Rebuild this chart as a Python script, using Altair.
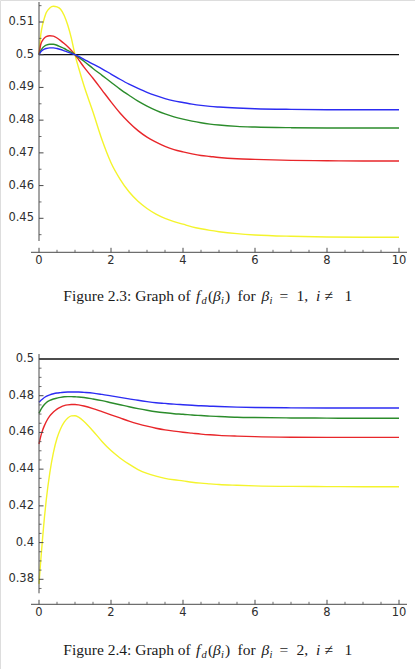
import altair as alt
import pandas as pd

# Sample points along beta_i (shared by every curve)
X = [0, 0.05, 0.1, 0.15, 0.2, 0.3, 0.4, 0.5, 0.6, 0.7, 0.8, 0.9, 1.0, 1.1, 1.25,
     1.5, 1.75, 2.0, 2.25, 2.5, 2.75, 3.0, 3.25, 3.5, 3.75, 4.0, 4.25, 4.5, 4.75, 5.0,
     5.5, 6.0, 7.0, 8.0, 9.0, 10.0]

# Figure 2.3 curves (beta_i = 1)
TOP_BLUE = [0.5, 0.5009, 0.5014, 0.5017, 0.5019, 0.5021, 0.5021, 0.5019, 0.5016, 0.5012, 0.5008,
            0.5004, 0.5, 0.4995, 0.4986, 0.4971, 0.4957, 0.4941, 0.4925, 0.4910, 0.4897, 0.4885,
            0.4875, 0.4866, 0.4859, 0.4854, 0.4849, 0.4845, 0.4842, 0.4840, 0.4837, 0.4835,
            0.4833, 0.4832, 0.4832, 0.4832]
TOP_GREEN = [0.5, 0.5013, 0.5021, 0.5026, 0.5029, 0.5032, 0.5032, 0.5029, 0.5024, 0.5019, 0.5013,
             0.5007, 0.5, 0.4992, 0.4980, 0.4958, 0.4937, 0.4916, 0.4895, 0.4876, 0.4858, 0.4843,
             0.4830, 0.4819, 0.4810, 0.4803, 0.4797, 0.4792, 0.4788, 0.4785, 0.4781, 0.4779,
             0.4777, 0.4776, 0.4776, 0.4776]
TOP_RED = [0.5, 0.5032, 0.5044, 0.5051, 0.5055, 0.5058, 0.5057, 0.5051, 0.5043, 0.5034, 0.5024,
           0.5013, 0.5, 0.4985, 0.4962, 0.4928, 0.4892, 0.4856, 0.4822, 0.4793, 0.4768, 0.4748,
           0.4733, 0.4720, 0.4710, 0.4703, 0.4697, 0.4692, 0.4689, 0.4686, 0.4682, 0.4680,
           0.4677, 0.4676, 0.4675, 0.4675]
TOP_YELLOW = [0.5, 0.5062, 0.5092, 0.5112, 0.5128, 0.5143, 0.5148, 0.5146, 0.5139, 0.5120, 0.5090,
              0.5050, 0.5, 0.4960, 0.4905, 0.4825, 0.4740, 0.4670, 0.4620, 0.4581, 0.4552, 0.4530,
              0.4513, 0.4500, 0.4490, 0.4482, 0.4474, 0.4468, 0.4463, 0.4459, 0.4453, 0.4449,
              0.4445, 0.4443, 0.4442, 0.4442]

# Figure 2.4 curves (beta_i = 2)
BOT_BLUE = [0.4764, 0.4774, 0.4782, 0.4790, 0.4796, 0.4805, 0.4811, 0.4815, 0.4817, 0.4819, 0.4820,
            0.4820, 0.4820, 0.4820, 0.4818, 0.4814, 0.4807, 0.4799, 0.4791, 0.4783, 0.4775, 0.4768,
            0.4762, 0.4758, 0.4754, 0.4751, 0.4748, 0.4745, 0.4743, 0.4741, 0.4738, 0.4736,
            0.4734, 0.4733, 0.4733, 0.4733]
BOT_GREEN = [0.4704, 0.4724, 0.4740, 0.4752, 0.4762, 0.4774, 0.4782, 0.4787, 0.4791, 0.4794, 0.4795,
             0.4795, 0.4794, 0.4793, 0.4790, 0.4782, 0.4773, 0.4762, 0.4751, 0.4740, 0.4730, 0.4721,
             0.4713, 0.4707, 0.4702, 0.4699, 0.4695, 0.4692, 0.4689, 0.4687, 0.4683, 0.4681,
             0.4679, 0.4678, 0.4677, 0.4677]
BOT_RED = [0.4537, 0.4580, 0.4612, 0.4637, 0.4658, 0.4690, 0.4711, 0.4727, 0.4738, 0.4746, 0.4750,
           0.4752, 0.4752, 0.4750, 0.4744, 0.4730, 0.4713, 0.4696, 0.4679, 0.4662, 0.4647, 0.4634,
           0.4623, 0.4614, 0.4607, 0.4601, 0.4596, 0.4591, 0.4587, 0.4584, 0.4580, 0.4577,
           0.4574, 0.4573, 0.4573, 0.4573]
BOT_YELLOW = [0.3775, 0.3905, 0.4025, 0.4135, 0.4230, 0.4380, 0.4490, 0.4568, 0.4620, 0.4656, 0.4679,
              0.4690, 0.4691, 0.4683, 0.4660, 0.4608, 0.4551, 0.4501, 0.4461, 0.4427, 0.4398, 0.4377,
              0.4362, 0.4350, 0.4342, 0.4336, 0.4329, 0.4324, 0.4320, 0.4316, 0.4312, 0.4309,
              0.4306, 0.4305, 0.4304, 0.4304]

REF_LEVEL = 0.5
REF_X = [0, 10]

SERIES = ["yellow", "red", "green", "blue"]
SERIES_COLORS = ["#f4f42c", "#e8262a", "#2b8c2b", "#2c2cf2"]

# Axis ticks
X_MAJOR = [0, 2, 4, 6, 8, 10]
X_LABELS = ["0", "2", "4", "6", "8", "10"]
X_MINOR = [0.5, 1, 1.5, 2.5, 3, 3.5, 4.5, 5, 5.5, 6.5, 7, 7.5, 8.5, 9, 9.5]

TOP_Y_MAJOR = [0.45, 0.46, 0.47, 0.48, 0.49, 0.5, 0.51]
TOP_Y_LABELS = ["0.45", "0.46", "0.47", "0.48", "0.49", "0.5", "0.51"]
TOP_Y_MINOR = [0.445, 0.455, 0.465, 0.475, 0.485, 0.495, 0.505, 0.515]

BOT_Y_MAJOR = [0.38, 0.40, 0.42, 0.44, 0.46, 0.48, 0.5]
BOT_Y_LABELS = ["0.38", "0.4", "0.42", "0.44", "0.46", "0.48", "0.5"]
BOT_Y_MINOR = [0.375, 0.385, 0.39, 0.395, 0.405, 0.41, 0.415, 0.425, 0.43, 0.435,
               0.445, 0.45, 0.455, 0.465, 0.47, 0.475, 0.485, 0.49, 0.495]

AXIS_GRAY = "#4a4a4a"
LABEL_GRAY = "#2e2e2e"
TICK_FONT = "DejaVu Sans"
CAPTION_FONT = "Liberation Serif"

X0_PX, X10_PX = 39, 399          # pixel span of beta_i = 0 .. 10
XAXIS_LEFT, XAXIS_RIGHT = 31, 407


def curve_frame(blue, green, red, yellow):
    rows = []
    for name, ys in zip(SERIES, [yellow, red, green, blue]):
        for x, y in zip(X, ys):
            rows.append({"x": x, "y": y, "series": name})
    return pd.DataFrame(rows)


def caption_layers(parts, baseline):
    layers = []
    for text, px, italic, sub in parts:
        layers.append(
            alt.Chart().mark_text(
                text=text, align="left", baseline="alphabetic", font=CAPTION_FONT,
                fontSize=10.5 if sub else 15.5, fontStyle="italic" if italic else "normal",
                color="#1a1a1a",
            ).encode(x=alt.value(px), y=alt.value(baseline + (3 if sub else 0)))
        )
    return layers


def panel(curves, y_dom, y_rng, y_major, y_labels, y_minor, y_top, y_bot, x_axis_y, caption, cap_base):
    xs = alt.Scale(domain=[0, 10], range=[X0_PX, X10_PX], nice=False, zero=False)
    ys = alt.Scale(domain=y_dom, range=y_rng, nice=False, zero=False)

    lines = alt.Chart(curves).mark_line(interpolate="monotone", strokeWidth=1.4).encode(
        x=alt.X("x:Q", scale=xs, axis=None),
        y=alt.Y("y:Q", scale=ys, axis=None),
        color=alt.Color("series:N", scale=alt.Scale(domain=SERIES, range=SERIES_COLORS), legend=None),
        detail="series:N",
    )
    ref = alt.Chart(pd.DataFrame({"x": REF_X, "y": [REF_LEVEL] * len(REF_X)})).mark_line(
        color="#111111", strokeWidth=1.3
    ).encode(x=alt.X("x:Q", scale=xs, axis=None), y=alt.Y("y:Q", scale=ys, axis=None))

    y_line = alt.Chart().mark_rule(color=AXIS_GRAY, strokeWidth=1).encode(
        x=alt.value(X0_PX), y=alt.value(y_top), y2=alt.value(y_bot)
    )
    y_maj = alt.Chart(pd.DataFrame({"v": y_major})).mark_rule(color=AXIS_GRAY, strokeWidth=1).encode(
        y=alt.Y("v:Q", scale=ys, axis=None), x=alt.value(X0_PX), x2=alt.value(X0_PX + 4.5)
    )
    y_min = alt.Chart(pd.DataFrame({"v": y_minor})).mark_rule(color=AXIS_GRAY, strokeWidth=0.8).encode(
        y=alt.Y("v:Q", scale=ys, axis=None), x=alt.value(X0_PX), x2=alt.value(X0_PX + 2.5)
    )
    y_lab = alt.Chart(pd.DataFrame({"v": y_major, "t": y_labels})).mark_text(
        align="right", baseline="middle", font=TICK_FONT, fontSize=11.5, color=LABEL_GRAY
    ).encode(y=alt.Y("v:Q", scale=ys, axis=None), x=alt.value(X0_PX - 5), text="t:N")

    x_line = alt.Chart().mark_rule(color=AXIS_GRAY, strokeWidth=1).encode(
        x=alt.value(XAXIS_LEFT), x2=alt.value(XAXIS_RIGHT), y=alt.value(x_axis_y)
    )
    x_maj = alt.Chart(pd.DataFrame({"v": X_MAJOR})).mark_rule(color=AXIS_GRAY, strokeWidth=1).encode(
        x=alt.X("v:Q", scale=xs, axis=None), y=alt.value(x_axis_y), y2=alt.value(x_axis_y - 4.5)
    )
    x_min = alt.Chart(pd.DataFrame({"v": X_MINOR})).mark_rule(color=AXIS_GRAY, strokeWidth=0.8).encode(
        x=alt.X("v:Q", scale=xs, axis=None), y=alt.value(x_axis_y), y2=alt.value(x_axis_y - 2.5)
    )
    x_lab = alt.Chart(pd.DataFrame({"v": X_MAJOR, "t": X_LABELS})).mark_text(
        align="center", baseline="middle", font=TICK_FONT, fontSize=11.5, color=LABEL_GRAY
    ).encode(x=alt.X("v:Q", scale=xs, axis=None), y=alt.value(x_axis_y + 9), text="t:N")

    return alt.layer(ref, lines, y_line, y_maj, y_min, y_lab, x_line, x_maj, x_min, x_lab,
                     *caption_layers(caption, cap_base))


def caption_parts(fig, beta):
    return [
        (f"Figure {fig}: Graph of", 63.3, False, False),
        ("f", 196.0, True, False),
        ("d", 201.5, True, True),
        ("(", 208.0, False, False),
        ("β", 213.0, True, False),
        ("i", 221.0, True, True),
        (")", 225.0, False, False),
        ("for", 237.5, False, False),
        ("β", 261.5, True, False),
        ("i", 269.5, True, True),
        ("=", 279.5, False, False),
        (f"{beta},", 296.5, False, False),
        ("i", 316.0, True, False),
        ("≠", 324.5, False, False),
        ("1", 344.5, False, False),
    ]


top = panel(curve_frame(TOP_BLUE, TOP_GREEN, TOP_RED, TOP_YELLOW),
            [0.45, 0.51], [218.3, 22.0], TOP_Y_MAJOR, TOP_Y_LABELS, TOP_Y_MINOR,
            2, 241, 252.3, caption_parts("2.3", 1), 300.7)
bottom = panel(curve_frame(BOT_BLUE, BOT_GREEN, BOT_RED, BOT_YELLOW),
               [0.38, 0.5], [579.3, 359.0], BOT_Y_MAJOR, BOT_Y_LABELS, BOT_Y_MINOR,
               354, 593.3, 604.3, caption_parts("2.4", 2), 655.0)

chart = alt.layer(top, bottom).resolve_scale(y="independent").properties(
    width=415, height=669, autosize=alt.AutoSizeParams(type="none"), padding=0
).configure_view(stroke=None).configure(background="white")

chart.save("out.html", embed_options={"renderer": "svg", "actions": False})
